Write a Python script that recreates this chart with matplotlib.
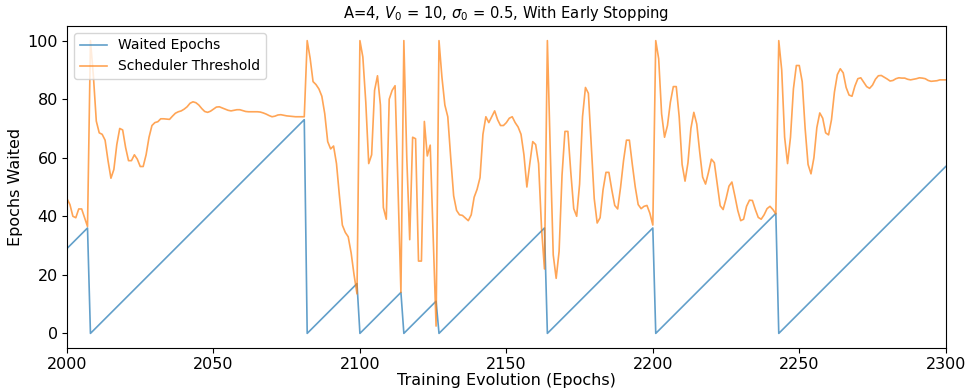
import matplotlib
matplotlib.use("Agg")
import matplotlib.pyplot as plt
import numpy as np

# Waited epochs: sawtooth vertices (epoch, epochs waited)
waited_x = [2000, 2007, 2008, 2081, 2082, 2099, 2100, 2114, 2115, 2126, 2127,
            2163, 2164, 2200, 2201, 2242, 2243, 2300]
waited_y = [29, 36, 0, 73, 0, 17, 0, 14, 0, 11, 0,
            36, 0, 36, 0, 41, 0, 57]

# Scheduler threshold, one value per epoch from 2000 to 2300
threshold_start = 2000
threshold = [
    46, 44, 40, 39.5, 42.5, 42.5, 39.5, 36.5, 100, 88,              # 2000
    72.5, 68.5, 68, 66, 59, 53, 56, 64.5, 70, 69.5,                 # 2010
    63.5, 59, 59, 61, 59.5, 57, 57, 61, 67, 71,                     # 2020
    72, 72.3, 73.3, 73.3, 73.2, 73.1, 74.2, 75.2, 75.7, 76,         # 2030
    76.6, 77.4, 78.6, 79.1, 78.8, 78, 76.8, 75.8, 75.5, 75.9,       # 2040
    76.6, 77.3, 77.4, 77, 76.6, 76.2, 76, 76.2, 76.4, 76.4,         # 2050
    76.1, 75.8, 75.7, 75.7, 75.7, 75.7, 75.6, 75.3, 74.9, 74.4,     # 2060
    74, 74.2, 74.6, 74.7, 74.5, 74.3, 74.2, 74.1, 74, 74,           # 2070
    74, 74, 100, 94, 86, 85, 83.5, 81, 75, 65.5,                    # 2080
    63, 64, 58, 47, 37, 34.5, 33, 27.5, 20, 13.5,                   # 2090
    100, 94.4, 79, 58, 61, 83, 88, 78, 43, 39,                      # 2100
    80, 83, 84.6, 50, 14, 100, 60, 32, 67, 66.5,                    # 2110
    24.7, 24.7, 72.4, 60.6, 64.3, 33, 2.5, 100, 87.5, 78,           # 2120
    74, 60, 47, 42, 40.5, 40.3, 39.4, 38.5, 40.5, 46.5,             # 2130
    49.2, 53.2, 68, 74, 72, 74, 76, 73, 71, 71,                     # 2140
    72, 73.5, 74, 72, 70.5, 68, 61, 50, 58, 65.5,                   # 2150
    64.5, 58, 36, 22, 100, 62, 26.8, 18.8, 28, 54,                  # 2160
    69, 69, 55, 42.6, 40, 51, 74, 84, 82, 64,                       # 2170
    46, 37.7, 39.5, 49, 55, 55, 49, 43.7, 42.5, 50,                 # 2180
    59, 66, 66, 57.7, 50, 44, 42.6, 43.4, 43.7, 41,                 # 2190
    37, 100, 93.8, 75, 67, 71, 79, 84.3, 84.3, 74,                  # 2200
    57.7, 52, 58.3, 70, 75.5, 71.5, 62, 53.4, 51, 55,               # 2210
    59.5, 58.3, 51, 43.6, 42.3, 46, 50.3, 51.7, 47, 42,             # 2220
    38.5, 39, 43.4, 45.5, 45.4, 42.3, 39.6, 39, 40.5, 42.6,         # 2230
    43.4, 42.3, 40.8, 100, 90, 67, 58, 67, 83.5, 91.5,              # 2240
    91.5, 86, 70, 57.7, 54.5, 60, 70.3, 75.3, 73.5, 68.5,           # 2250
    67.8, 73, 82.4, 88.4, 90.4, 89, 84, 81.4, 81, 84.5,             # 2260
    87, 87.3, 85.8, 84.3, 83.7, 84.8, 86.8, 88, 88.1, 87.5,         # 2270
    86.9, 86.2, 86.4, 87, 87.3, 87.2, 87.2, 86.8, 86.6, 86.8,       # 2280
    87, 87.3, 87.2, 87, 86.4, 86.1, 86.2, 86.3, 86.6, 86.6,         # 2290
    86.6,                                                           # 2300
]


def main():
    epochs = threshold_start + np.arange(len(threshold))

    fig = plt.figure(figsize=(9.67, 3.92), dpi=100)
    ax = fig.add_axes([0.0693, 0.1122, 0.9087, 0.8215])

    ax.plot(waited_x, waited_y, color="tab:blue", alpha=0.7, lw=1.2, label="Waited Epochs")
    ax.plot(epochs, threshold, color="tab:orange", alpha=0.7, lw=1.2, label="Scheduler Threshold")

    ax.set_xlim(2000, 2300)
    ax.set_ylim(-5, 105)
    ax.set_xticks([2000, 2050, 2100, 2150, 2200, 2250, 2300])
    ax.set_yticks([0, 20, 40, 60, 80, 100])
    ax.tick_params(labelsize=11.5, pad=3)
    ax.set_xlabel("Training Evolution (Epochs)", fontsize=11.5, labelpad=1)
    ax.set_ylabel("Epochs Waited", fontsize=11.5, labelpad=3)
    ax.set_title(r"A=4, $V_0$ = 10, $\sigma_0$ = 0.5, With Early Stopping", fontsize=10.6)
    ax.legend(loc="upper left", fontsize=10)

    fig.savefig("out.png", dpi=100)


if __name__ == '__main__':
    main()
